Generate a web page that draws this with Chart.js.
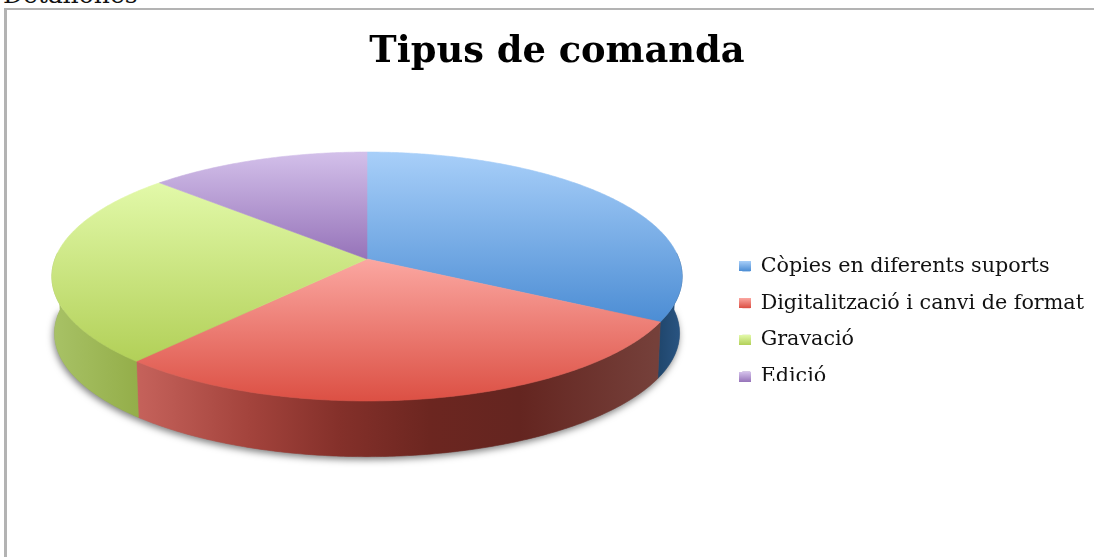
<!DOCTYPE html>
<html><head><meta charset="utf-8">
<style>
html,body{margin:0;padding:0;background:#fff;overflow:hidden;width:1094px;height:557px}
#wrap{position:relative;width:1094px;height:557px;overflow:hidden}
#frame{position:absolute;left:4px;top:8px;width:1094px;height:560px;border-left:3px solid #b3b3b3;border-top:2px solid #b3b3b3;box-sizing:border-box}
#head{position:absolute;left:3px;top:-19px;font:25px/28px "DejaVu Serif";color:#111;white-space:nowrap}
canvas{position:absolute;left:0;top:0}
</style>
<script src="https://cdn.jsdelivr.net/npm/chart.js@4/dist/chart.umd.min.js"></script>
</head><body>
<div id="wrap">
<div id="head">Detallones</div>
<div id="frame"></div>
<canvas id="c" width="1094" height="557"></canvas>
</div>
<script>
const titleText = "Tipus de comanda";
const categories = ["Còpies en diferents suports","Digitalització i canvi de format","Gravació","Edició"];
const values = [33,28.5,25.5,13];
const baseColors = ["#6ea4e0","#e8736a","#c3dd78","#ab8fcb"];
const topLight = ["#a8cff9","#fba7a1","#e2f9a9","#d3c0ea"];
const topDark  = ["#4c8dd4","#dc5044","#b2d058","#9673b9"];
const wallStops = [
 [[655,"#1e4469"],[682,"#2a5583"]],
 [[138,"#c5625b"],[250,"#a3433c"],[340,"#84302a"],[430,"#6c2620"],[520,"#642520"],[655,"#75403a"]],
 [[52,"#a8c266"],[142,"#93ad48"]],
 [[160,"#6b5585"],[367,"#6b5585"]]
];
const view = {cx:367, cy:259, a:312, c:122, k:0.1406, depth:57};
const legendRow = {shiftY:43, cropY:381};

function project(angle, shrink){
  const X = Math.cos(angle)*(shrink||1), Y = -Math.sin(angle)*(shrink||1);
  const w = 1 + view.k*Y;
  return {x:view.cx + view.a*X/w, y:view.cy - view.c*Y/w};
}
function rim(start,end,shrink,dy){
  const n = Math.max(4,Math.ceil((end-start)/0.01)), pts=[];
  for(let i=0;i<=n;i++){
    const p = project(start+(end-start)*i/n,shrink);
    pts.push({x:p.x,y:p.y+(dy||0)});
  }
  return pts;
}
function trace(ctx,pts){
  ctx.beginPath();
  pts.forEach((p,i)=> i?ctx.lineTo(p.x,p.y):ctx.moveTo(p.x,p.y));
  ctx.closePath();
}
let legendMoved = false;
const pie3d = {
  id:'pie3d',
  beforeDraw(chart){
    if(legendMoved) return;
    legendMoved = true;
    const l = chart.legend;
    l.top += legendRow.shiftY; l.bottom += legendRow.shiftY;
    l.legendHitBoxes.forEach(b=>{b.top += legendRow.shiftY;});
  },
  beforeDatasetsDraw(chart){
    const ctx = chart.ctx, arcs = chart.getDatasetMeta(0).data;
    ctx.save();
    // soft shadow beneath the body
    const all = rim(-0.05,Math.PI+0.05,0.992,view.depth);
    ctx.save();
    ctx.shadowColor='rgba(0,0,0,0.5)';ctx.shadowBlur=7;ctx.shadowOffsetY=3;ctx.shadowOffsetX=-1;
    ctx.fillStyle='#888';trace(ctx,all);ctx.fill();
    ctx.restore();
    // side walls: front part of the rim only
    arcs.forEach((arc,i)=>{
      const s = Math.max(arc.startAngle,-0.05), e = Math.min(arc.endAngle,Math.PI+0.05);
      if(e<=s) return;
      const top = rim(s,e,1,0);
      const bot = rim(s,e,0.992,view.depth).reverse();
      const stops = wallStops[i], x0=stops[0][0], x1=stops[stops.length-1][0];
      const g = ctx.createLinearGradient(x0,0,x1,0);
      stops.forEach(st=>g.addColorStop((st[0]-x0)/(x1-x0),st[1]));
      ctx.fillStyle=g;ctx.strokeStyle=g;ctx.lineWidth=0.6;
      trace(ctx,top.concat(bot));ctx.fill();ctx.stroke();
    });
    // top faces
    arcs.forEach((arc,i)=>{
      const pts = rim(arc.startAngle,arc.endAngle,1,0);
      pts.push({x:view.cx,y:view.cy});
      const ys = pts.map(p=>p.y), y0=Math.min(...ys), y1=Math.max(...ys);
      const g = ctx.createLinearGradient(0,y0,0,y1);
      g.addColorStop(0,topLight[i]);g.addColorStop(1,topDark[i]);
      ctx.fillStyle=g;ctx.strokeStyle=g;ctx.lineWidth=0.6;
      trace(ctx,pts);ctx.fill();ctx.stroke();
    });
    ctx.restore();
    return false;
  },
  afterDraw(chart){
    const ctx = chart.ctx, boxes = chart.legend.legendHitBoxes;
    ctx.save();
    boxes.forEach((b,i)=>{
      const y=Math.round(b.top+(b.height-10)/2);
      const g=ctx.createLinearGradient(0,y,0,y+10);
      g.addColorStop(0,topLight[i]);g.addColorStop(1,topDark[i]);
      ctx.fillStyle=g;ctx.fillRect(Math.round(b.left)-3,y,12,10);
    });
    // the reference crops the last legend row
    const last=boxes[boxes.length-1];
    ctx.fillStyle='#fff';ctx.fillRect(last.left+16,legendRow.cropY,200,14);
    ctx.restore();
  }
};
new Chart(document.getElementById('c'),{
  type:'pie',
  data:{labels:categories,datasets:[{data:values,backgroundColor:baseColors,borderWidth:0}]},
  options:{
    responsive:false,animation:false,
    layout:{padding:{left:20,right:0,top:0,bottom:0}},
    plugins:{
      title:{display:true,text:titleText,color:'#000',
        font:{family:'"DejaVu Serif"',size:36.8,weight:'bold',lineHeight:1.2},
        padding:{top:30,bottom:50}},
      legend:{position:'right',
        labels:{color:'#111',font:{family:'"DejaVu Serif"',size:20.7},boxWidth:8,boxHeight:10,padding:16}},
      tooltip:{enabled:false}
    }
  },
  plugins:[pie3d]
});
</script>
</body></html>
